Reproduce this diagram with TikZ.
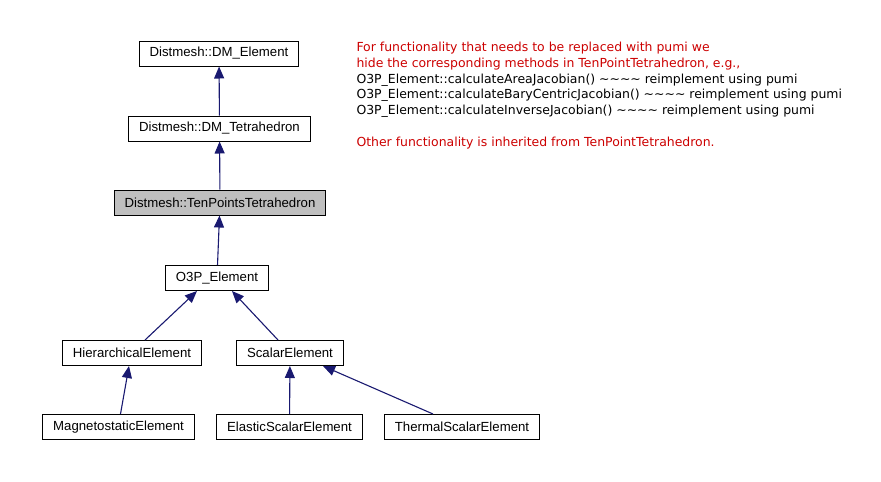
\documentclass[tikz,border=0pt]{standalone}
\usepackage{fontspec}
\usetikzlibrary{arrows.meta}
\newfontfamily\classfont{Liberation Sans}
\newfontfamily\notefont{DejaVu Sans}
\definecolor{edgeblue}{RGB}{25,25,112}
\definecolor{notered}{RGB}{204,0,0}
\definecolor{curgray}{RGB}{191,191,191}
\begin{document}
\begin{tikzpicture}[x=1pt, y=-1pt,
  every node/.style={draw,rectangle,fill=white,line width=1pt,inner xsep=10.5pt,
    minimum height=25pt,font=\classfont\fontsize{13.2}{15}\selectfont},
  inh/.style={draw=edgeblue,line width=1.1pt,-{Triangle[length=12pt,width=10pt]}}]
\useasboundingbox (0,0) rectangle (881,482);
\node (dmelem) at (219,53.5) {Distmesh::DM\_Element};
\node (dmtet) at (219.5,128.5) {Distmesh::DM\_Tetrahedron};
\node[fill=curgray] (tenpt) at (220,202.5) {Distmesh::TenPointsTetrahedron};
\node (o3p) at (217,278) {O3P\_Element};
\node (hier) at (132,353) {HierarchicalElement};
\node (scalar) at (290,353) {ScalarElement};
\node (magneto) at (118.5,427) {MagnetostaticElement};
\node (elastic) at (289.5,427) {ElasticScalarElement};
\node (thermal) at (462,427) {ThermalScalarElement};
% inheritance arrows point to the base class
\draw[inh] (dmtet) -- (dmelem);
\draw[inh] (tenpt) -- (dmtet);
\draw[inh] (o3p) -- (tenpt);
\draw[inh] ([xshift=13pt]hier.north) -- ([xshift=-20pt]o3p.south);
\draw[inh] ([xshift=-12pt]scalar.north) -- ([xshift=15pt]o3p.south);
\draw[inh] ([xshift=2pt]magneto.north) -- ([xshift=-3pt]hier.south);
\draw[inh] (elastic) -- (scalar);
\draw[inh] ([xshift=-29pt]thermal.north) -- ([xshift=33pt]scalar.south);
% note
\node[draw=none,fill=none,anchor=north west,align=left,inner sep=0pt,
  font=\notefont\fontsize{12.45}{15.8}\selectfont] (note) at (356,41.5) {%
  \textcolor{notered}{For functionality that needs to be replaced with pumi we}\\
  \textcolor{notered}{hide the corresponding methods in TenPointTetrahedron, e.g.,}\\
  O3P\_Element::calculateAreaJacobian() \textasciitilde\textasciitilde\textasciitilde\textasciitilde{} reimplement using pumi\\
  O3P\_Element::calculateBaryCentricJacobian() \textasciitilde\textasciitilde\textasciitilde\textasciitilde{} reimplement using pumi\\
  O3P\_Element::calculateInverseJacobian() \textasciitilde\textasciitilde\textasciitilde\textasciitilde{} reimplement using pumi\\[15.8pt]
  \textcolor{notered}{Other functionality is inherited from TenPointTetrahedron.}};
\end{tikzpicture}
\end{document}
